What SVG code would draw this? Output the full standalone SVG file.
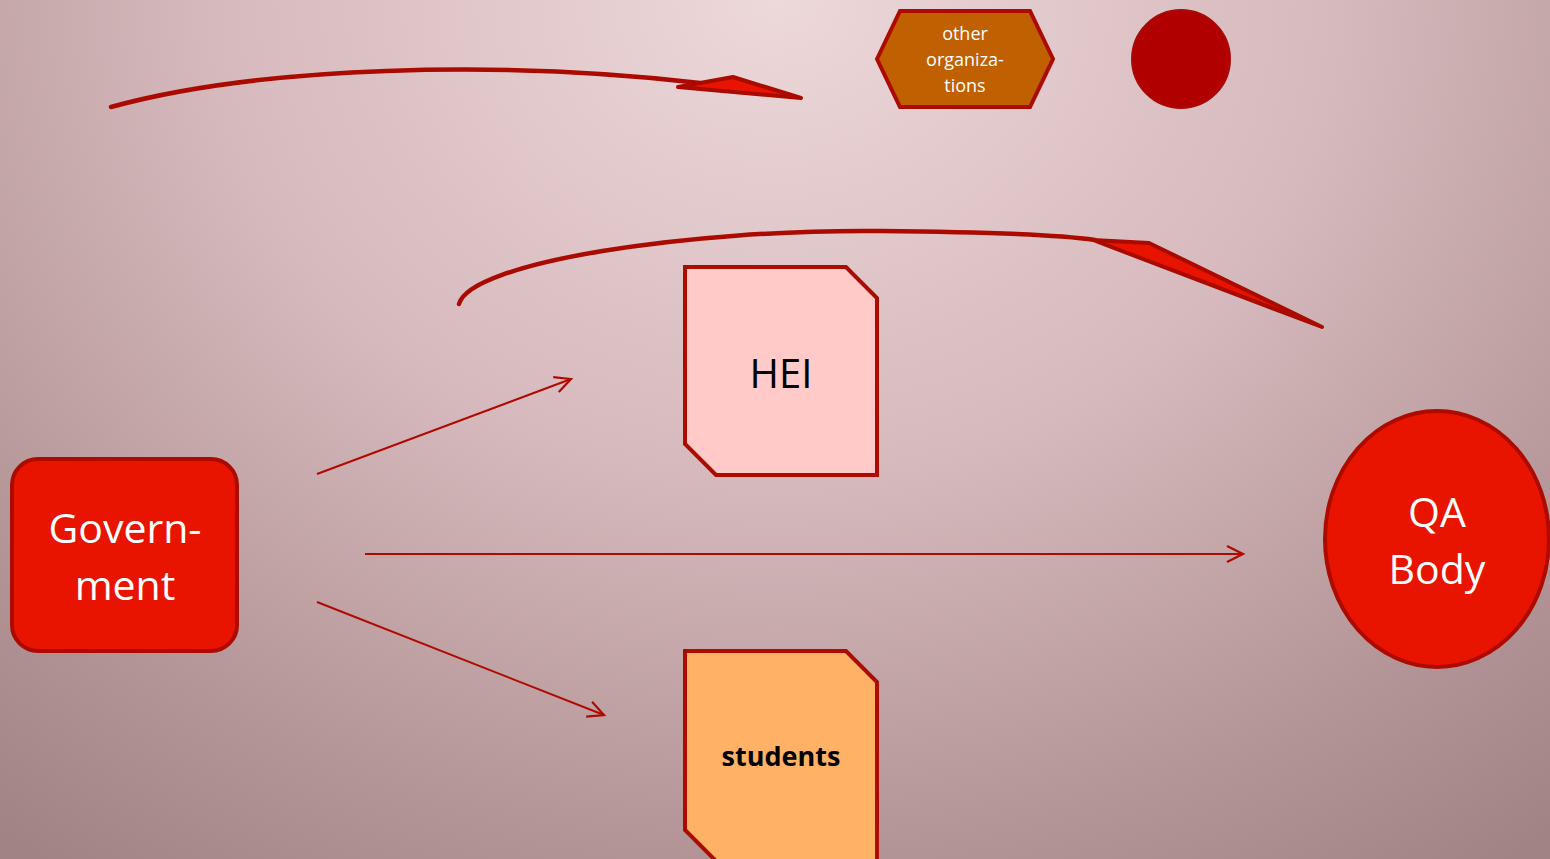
<svg xmlns="http://www.w3.org/2000/svg" width="1550" height="859" viewBox="0 0 1550 859">
<defs>
<radialGradient id="bg" cx="775" cy="0" r="1250" gradientUnits="userSpaceOnUse" gradientTransform="translate(775 0) scale(1 0.85) translate(-775 0)">
<stop offset="0" stop-color="#edd8da"/>
<stop offset="0.45" stop-color="#d6b9bc"/>
<stop offset="0.8" stop-color="#b39597"/>
<stop offset="1" stop-color="#a18385"/>
</radialGradient>
<marker id="open" viewBox="0 0 20 20" refX="18" refY="10" markerWidth="20" markerHeight="20" markerUnits="userSpaceOnUse" orient="auto">
<path d="M2,2 L18,10 L2,18" fill="none" stroke="#b00a00" stroke-width="2.2"/>
</marker>
<style>
.lbl{font-family:"Open Sans","Noto Sans","Liberation Sans",sans-serif;text-anchor:middle}
.conn{fill:none;stroke:#b00a00;stroke-width:2}
.curve{fill:none;stroke:#aa0a00;stroke-width:4.5;stroke-linecap:round}
.head{fill:#e81400;stroke:#aa0a00;stroke-width:4;stroke-linejoin:round}
.node{stroke:#ad0a00;stroke-width:4}
</style>
</defs>
<rect width="1550" height="859" fill="url(#bg)"/>
<g id="connectors">
<path class="curve" d="M111,107 C260,66 500,60 700,83"/>
<polygon class="head" points="678,87 733,77 801,98"/>
<path class="curve" d="M459,304 C470,262 690,229 880,231 C990,232 1060,235 1095,240"/>
<polygon class="head" points="1093,240 1149,243 1322,327"/>
<line class="conn" x1="317" y1="474" x2="571" y2="379" marker-end="url(#open)"/>
<line class="conn" x1="365" y1="554" x2="1243" y2="554" marker-end="url(#open)"/>
<line class="conn" x1="317" y1="602" x2="604" y2="715" marker-end="url(#open)"/>
</g>
<g id="government">
<rect class="node" x="12" y="459" width="225" height="192" rx="26" fill="#e81400"/>
<text class="lbl" x="125" y="543" font-size="41" fill="#ffffff">Govern-</text>
<text class="lbl" x="125" y="600" font-size="41" fill="#ffffff">ment</text>
</g>
<g id="hei">
<polygon class="node" points="685,267 846,267 877,298 877,475 716,475 685,444" fill="#ffcac8"/>
<text class="lbl" x="781" y="388" font-size="40" fill="#000000">HEI</text>
</g>
<g id="students">
<polygon class="node" points="685,651 846,651 877,682 877,861 716,861 685,830" fill="#ffb266"/>
<text class="lbl" x="781" y="766" font-size="27" font-weight="bold" fill="#000000">students</text>
</g>
<g id="qa-body">
<ellipse class="node" cx="1437" cy="539" rx="112" ry="128" fill="#e81400"/>
<text class="lbl" x="1437" y="527" font-size="41" fill="#ffffff">QA</text>
<text class="lbl" x="1437" y="584" font-size="41" fill="#ffffff">Body</text>
</g>
<g id="other-organizations">
<polygon class="node" points="877,59 900,11 1030,11 1053,59 1030,107 900,107" fill="#c06000"/>
<text class="lbl" x="965" y="40" font-size="18" fill="#ffffff">other</text>
<text class="lbl" x="965" y="66" font-size="18" fill="#ffffff">organiza-</text>
<text class="lbl" x="965" y="92" font-size="18" fill="#ffffff">tions</text>
</g>
<g id="circle">
<circle cx="1181" cy="59" r="49" fill="#b00000" stroke="#a80a0a" stroke-width="2"/>
</g>
</svg>
